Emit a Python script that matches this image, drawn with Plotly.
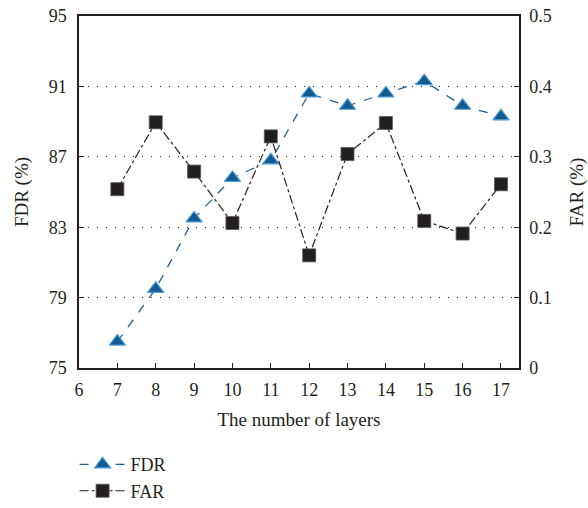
import plotly.graph_objects as go

layers = [7, 8, 9, 10, 11, 12, 13, 14, 15, 16, 17]
fdr = [76.5, 79.5, 83.5, 85.8, 86.8, 90.6, 89.9, 90.6, 91.3, 89.9, 89.3]
far = [0.254, 0.349, 0.279, 0.206, 0.329, 0.160, 0.304, 0.348, 0.209, 0.191, 0.261]
x_ticks = list(range(6, 18))
fdr_ticks = [75, 79, 83, 87, 91, 95]
far_ticks = [0, 0.1, 0.2, 0.3, 0.4, 0.5]

font_family = "Liberation Serif"
fig = go.Figure()
fig.add_trace(go.Scatter(
    x=layers, y=fdr, name="FDR", mode="lines+markers",
    line=dict(color="#1f5f96", width=1.3, dash="dash"),
    marker=dict(symbol="triangle-up", size=14, color="#135a90",
                line=dict(color="#4a9ad6", width=1.2)),
    yaxis="y",
))
fig.add_trace(go.Scatter(
    x=layers, y=far, name="FAR", mode="lines+markers",
    line=dict(color="#231f20", width=1.2, dash="dashdot"),
    marker=dict(symbol="square", size=13, color="#231f20",
                line=dict(color="#555", width=0.8)),
    yaxis="y2",
))

axis_common = dict(
    ticks="inside", ticklen=5, tickcolor="#231f20",
    showline=True, linecolor="#231f20", linewidth=1.5,
    zeroline=False, automargin=False, tickfont=dict(size=18),
    ticklabeloverflow="allow",
)

fig.update_layout(
    width=588, height=508,
    margin=dict(l=79, r=69, t=16, b=140, autoexpand=False),
    paper_bgcolor="white", plot_bgcolor="white",
    font=dict(family=font_family, size=18, color="#231f20"),
    showlegend=True,
    legend=dict(x=-0.01, y=-0.222, xanchor="left", yanchor="top",
                font=dict(size=18), tracegroupgap=0, itemwidth=46,
                bgcolor="rgba(0,0,0,0)"),
    xaxis=dict(
        range=[6, 17.47], tickvals=x_ticks, mirror=True, showgrid=False,
        ticklabelstandoff=5,
        title=dict(text="The number of layers", font=dict(size=19), standoff=13),
        **axis_common,
    ),
    yaxis=dict(
        range=[75, 95], tickvals=fdr_ticks, ticklabelstandoff=7,
        showgrid=True, gridcolor="#231f20", griddash="1px,8px", gridwidth=1.3,
        title=dict(text="FDR (%)", font=dict(size=19), standoff=15),
        **axis_common,
    ),
    yaxis2=dict(
        range=[0, 0.5], tickvals=far_ticks, ticktext=["0", "0.1", "0.2", "0.3", "0.4", "0.5"],
        overlaying="y", side="right", showgrid=False, ticklabelstandoff=5,
        title=dict(text="FAR (%)", font=dict(size=19), standoff=21),
        **axis_common,
    ),
)
fig.write_html("out.html", config={"displayModeBar": False},
               post_script="document.body.style.margin='0';document.body.style.overflow='hidden';")
